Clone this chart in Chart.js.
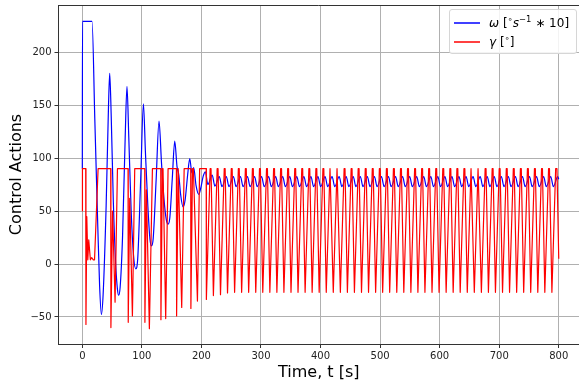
<!DOCTYPE html>
<html lang="en">
<head>
    <meta charset="UTF-8">
    <title>Control Actions</title>
    <script src="https://cdn.jsdelivr.net/npm/chart.js"></script>
    <style>
        body {
            margin: 0;
            padding: 0;
            background-color: white;
            font-family: "DejaVu Sans", sans-serif;
        }
        .wrap {
            position: relative;
            width: 579px;
            height: 392px;
        }
        .legend {
            position: absolute;
            left: 449px;
            top: 9px;
            width: 126px;
            height: 43px;
            border: 1px solid #d6d6d6;
            border-radius: 3px;
            background: rgba(255, 255, 255, 0.85);
            font-size: 12px;
            color: #000;
        }
        .legend .item {
            position: absolute;
            left: 0;
            width: 126px;
            height: 18px;
            line-height: 18px;
            white-space: nowrap;
        }
        .legend .swatch {
            position: absolute;
            left: 4px;
            top: 8px;
            width: 26px;
            height: 1.5px;
            opacity: 0.75;
        }
        .legend .label {
            position: absolute;
            left: 39px;
            top: 0;
        }
        .legend sup {
            font-size: 70%;
            line-height: 0;
            vertical-align: 5px;
        }
    </style>
</head>
<body>
    <div class="wrap">
        <canvas id="ctrlChart" width="579" height="392"></canvas>
        <div class="legend" id="legend"></div>
    </div>

    <script>
        // omega [deg/s * 10]
        const omegaT = [
            0, 0.3, 16.3, 21, 26, 29, 32, 35, 40, 44, 46, 48.5, 52, 56, 59, 61, 63.5, 67.5, 72, 75,
            78, 82, 86, 89.7, 93, 98, 102.6, 106, 110, 113.5, 116, 119, 124, 128.8, 133, 137, 141, 144,
            147, 151, 155.2, 159, 162, 165, 169.2, 172.5, 177, 180.4, 184, 187, 191, 195.5, 199, 203,
            206.7, 210.8,
            218.1, 222.6, 230.0, 234.5, 241.8, 246.3, 253.7, 258.2, 265.5, 270.0, 277.3, 281.8,
            289.2, 293.7, 301.0, 305.5, 312.9, 317.4, 324.7, 329.2, 336.5, 341.0, 348.4, 352.9,
            360.2, 364.7, 372.1, 376.6, 383.9, 388.4, 395.7, 400.2, 407.6, 412.1, 419.4, 423.9,
            431.3, 435.8, 443.1, 447.6, 454.9, 459.4, 466.8, 471.3, 478.6, 483.1, 490.5, 495.0,
            502.3, 506.8, 514.1, 518.6, 526.0, 530.5, 537.8, 542.3, 549.7, 554.2, 561.5, 566.0,
            573.3, 577.8, 585.2, 589.7, 597.0, 601.5, 608.9, 613.4, 620.7, 625.2, 632.5, 637.0,
            644.4, 648.9, 656.2, 660.7, 668.1, 672.6, 679.9, 684.4, 691.7, 696.2, 703.6, 708.1,
            715.4, 719.9, 727.3, 731.8, 739.1, 743.6, 750.9, 755.4, 762.8, 767.3, 774.6, 779.1,
            786.5, 791.0, 798.3, 800
        ];
        const omegaV = [
            90, 229, 229, 136, 35, -20, -47.6, -28, 55, 150, 180, 140, 60, 0, -24, -29.5, -22, 25, 120, 167.6,
            120, 50, 8, -4.5, 5, 80, 151.3, 105, 55, 24, 17.2, 24, 80, 135, 95, 62, 42, 37.6,
            44, 80, 116, 92, 84, 66, 54, 60, 85, 99.6, 86, 91, 74, 65.8, 72, 83,
            87, 75,
            84, 73.5, 82.5, 73, 82.5, 73, 82.5, 73, 82.5, 73, 82.5, 73,
            82.5, 73, 82.5, 73, 82.5, 73, 82.5, 73, 82.5, 73, 82.5, 73,
            82.5, 73, 82.5, 73, 82.5, 73, 82.5, 73, 82.5, 73, 82.5, 73,
            82.5, 73, 82.5, 73, 82.5, 73, 82.5, 73, 82.5, 73, 82.5, 73,
            82.5, 73, 82.5, 73, 82.5, 73, 82.5, 73, 82.5, 73, 82.5, 73,
            82.5, 73, 82.5, 73, 82.5, 73, 82.5, 73, 82.5, 73, 82.5, 73,
            82.5, 73, 82.5, 73, 82.5, 73, 82.5, 73, 82.5, 73, 82.5, 73,
            82.5, 73, 82.5, 73, 82.5, 73, 82.5, 73, 82.5, 73, 82.5, 73,
            82.5, 73, 82.5, 80
        ];

        // gamma [deg]
        const gammaT = [
            0, 0.2, 5.7, 6.1, 7.5, 9.2, 10.8, 13.5, 15.7, 18.5, 20.5, 26.5,
            47.7, 48.0, 50.8, 55.0, 59.0,
            76.8, 77.1, 79.6, 84.1, 88.0,
            104.8, 105.1, 107.6, 112.6, 117.7,
            131.7, 132.0, 134.5, 135.5, 140.0, 144.0,
            158.0, 158.3, 161.0, 162.0, 166.9, 171.0,
            182.0, 182.3, 185.0, 186.5, 193.3, 197.0,
            208.0, 208.3,
            214.6, 216.1, 220.1,  226.4, 227.9, 232.0,  238.3, 239.8, 243.8,  250.1, 251.6, 255.7,
            262.0, 263.5, 267.5,  273.8, 275.3, 279.3,  285.6, 287.1, 291.2,  297.5, 299.0, 303.0,
            309.3, 310.8, 314.9,  321.2, 322.7, 326.7,  333.0, 334.5, 338.5,  344.8, 346.3, 350.4,
            356.7, 358.2, 362.2,  368.5, 370.0, 374.1,  380.4, 381.9, 385.9,  392.2, 393.7, 397.7,
            404.0, 405.5, 409.6,  415.9, 417.4, 421.4,  427.7, 429.2, 433.3,  439.6, 441.1, 445.1,
            451.4, 452.9, 456.9,  463.2, 464.7, 468.8,  475.1, 476.6, 480.6,  486.9, 488.4, 492.5,
            498.8, 500.3, 504.3,  510.6, 512.1, 516.1,  522.4, 523.9, 528.0,  534.3, 535.8, 539.8,
            546.1, 547.6, 551.7,  558.0, 559.5, 563.5,  569.8, 571.3, 575.3,  581.6, 583.1, 587.2,
            593.5, 595.0, 599.0,  605.3, 606.8, 610.9,  617.2, 618.7, 622.7,  629.0, 630.5, 634.5,
            640.8, 642.3, 646.4,  652.7, 654.2, 658.2,  664.5, 666.0, 670.1,  676.4, 677.9, 681.9,
            688.2, 689.7, 693.7,  700.0, 701.5, 705.6,  711.9, 713.4, 717.4,  723.7, 725.2, 729.3,
            735.6, 737.1, 741.1,  747.4, 748.9, 752.9,  759.2, 760.7, 764.8,  771.1, 772.6, 776.6,
            782.9, 784.4, 788.5,  794.8, 797.0, 800
        ];
        const gammaV = [
            50, 90, 90, -57, 44.7, 4, 22.8, 4, 6, 4, 4, 90,
            90, -60, 50, -36, 90,
            90, -55, 62, -49, 90,
            90, -55, 70, -61, 90,
            90, -52.6, 90, 90, -51.5, 90,
            90, -49, 90, 90, -41, 90,
            90, -42, 90, 90, -35, 90,
            90, -33.5,
            90, 90, -29.8,  90, 90, -29,  90, 90, -27.3,  90, 90, -26.7,
            90, 90, -26.7,  90, 90, -26.7,  90, 90, -26.7,  90, 90, -26.7,
            90, 90, -26.7,  90, 90, -26.7,  90, 90, -26.7,  90, 90, -26.7,
            90, 90, -26.7,  90, 90, -26.7,  90, 90, -26.7,  90, 90, -26.7,
            90, 90, -26.7,  90, 90, -26.7,  90, 90, -26.7,  90, 90, -26.7,
            90, 90, -26.7,  90, 90, -26.7,  90, 90, -26.7,  90, 90, -26.7,
            90, 90, -26.7,  90, 90, -26.7,  90, 90, -26.7,  90, 90, -26.7,
            90, 90, -26.7,  90, 90, -26.7,  90, 90, -26.7,  90, 90, -26.7,
            90, 90, -26.7,  90, 90, -26.7,  90, 90, -26.7,  90, 90, -26.7,
            90, 90, -26.7,  90, 90, -26.7,  90, 90, -26.7,  90, 90, -26.7,
            90, 90, -26.7,  90, 90, -26.7,  90, 90, -26.7,  90, 90, -26.7,
            90, 90, -26.7,  90, 90, -26.7,  90, 90, -26.7,  90, 90, -26.7,
            90, 90, -26.7,  90, 90, 5
        ];

        const xTicks = [0, 100, 200, 300, 400, 500, 600, 700, 800];
        const yTicks = [-50, 0, 50, 100, 150, 200];

        const seriesNames = ['omega', 'gamma'];
        const seriesColors = ['#0000ff', '#ff0000'];

        const toPoints = (ts, vs) => ts.map((t, i) => ({ x: t, y: vs[i] }));
        const minusFmt = v => (v < 0 ? '\u2212' + Math.abs(v) : String(v));

        // matplotlib draws the top spine too
        const topSpine = {
            id: 'topSpine',
            afterDraw(chart) {
                const { ctx, chartArea } = chart;
                ctx.save();
                ctx.strokeStyle = '#333';
                ctx.lineWidth = 1;
                ctx.beginPath();
                ctx.moveTo(chartArea.left, chartArea.top + 0.5);
                ctx.lineTo(chartArea.right, chartArea.top + 0.5);
                ctx.stroke();
                ctx.restore();
            }
        };

        const tickFont = { family: 'DejaVu Sans', size: 10 };
        const titleFont = { family: 'DejaVu Sans', size: 16 };

        new Chart(document.getElementById('ctrlChart').getContext('2d'), {
            type: 'line',
            data: {
                datasets: [
                    {
                        label: seriesNames[0],
                        data: toPoints(omegaT, omegaV),
                        borderColor: seriesColors[0],
                        borderWidth: 1.2,
                        pointRadius: 0,
                        cubicInterpolationMode: 'monotone',
                        borderJoinStyle: 'round',
                        order: 1
                    },
                    {
                        label: seriesNames[1],
                        data: toPoints(gammaT, gammaV),
                        borderColor: seriesColors[1],
                        borderWidth: 1.2,
                        pointRadius: 0,
                        tension: 0,
                        borderJoinStyle: 'round',
                        order: 0
                    }
                ]
            },
            options: {
                responsive: false,
                animation: false,
                layout: { padding: { top: 5, right: 0, left: 0, bottom: 0 } },
                plugins: {
                    legend: { display: false },
                    tooltip: { enabled: false }
                },
                scales: {
                    x: {
                        type: 'linear',
                        min: -40,
                        max: 834,
                        afterBuildTicks: s => { s.ticks = xTicks.map(v => ({ value: v })); },
                        afterFit: s => { s.height = 48; s.paddingLeft = 0; s.paddingRight = 0; },
                        ticks: { font: tickFont, color: '#222', padding: 2, maxRotation: 0, callback: minusFmt },
                        grid: { color: '#b0b0b0', lineWidth: 1, tickColor: '#333', tickLength: 4 },
                        border: { color: '#333', width: 1 },
                        title: { display: true, text: 'Time, t [s]', font: titleFont, color: '#000', padding: { top: 0, bottom: 10 } }
                    },
                    y: {
                        min: -75.5,
                        max: 244.5,
                        afterBuildTicks: s => { s.ticks = yTicks.map(v => ({ value: v })); },
                        afterFit: s => { s.width = 58.5; s.paddingTop = 0; s.paddingBottom = 0; },
                        ticks: { font: tickFont, color: '#222', padding: 3, callback: minusFmt },
                        grid: { color: '#b0b0b0', lineWidth: 1, tickColor: '#333', tickLength: 4 },
                        border: { color: '#333', width: 1 },
                        title: { display: true, text: 'Control Actions', font: titleFont, color: '#000', padding: { top: 7, bottom: 0 } }
                    }
                }
            },
            plugins: [topSpine]
        });

        // legend box, upper right like matplotlib
        const legendHtml = [
            '<i>\u03c9</i> [<sup>\u2218</sup><i>s</i><sup>\u22121</sup> \u2217 10]',
            '<i>\u03b3</i> [<sup>\u2218</sup>]'
        ];
        const legendEl = document.getElementById('legend');
        legendHtml.forEach((html, i) => {
            const item = document.createElement('div');
            item.className = 'item';
            item.style.top = (4 + i * 19) + 'px';
            const sw = document.createElement('span');
            sw.className = 'swatch';
            sw.style.backgroundColor = seriesColors[i];
            const lab = document.createElement('span');
            lab.className = 'label';
            lab.innerHTML = html;
            item.appendChild(sw);
            item.appendChild(lab);
            legendEl.appendChild(item);
        });
    </script>
</body>
</html>
